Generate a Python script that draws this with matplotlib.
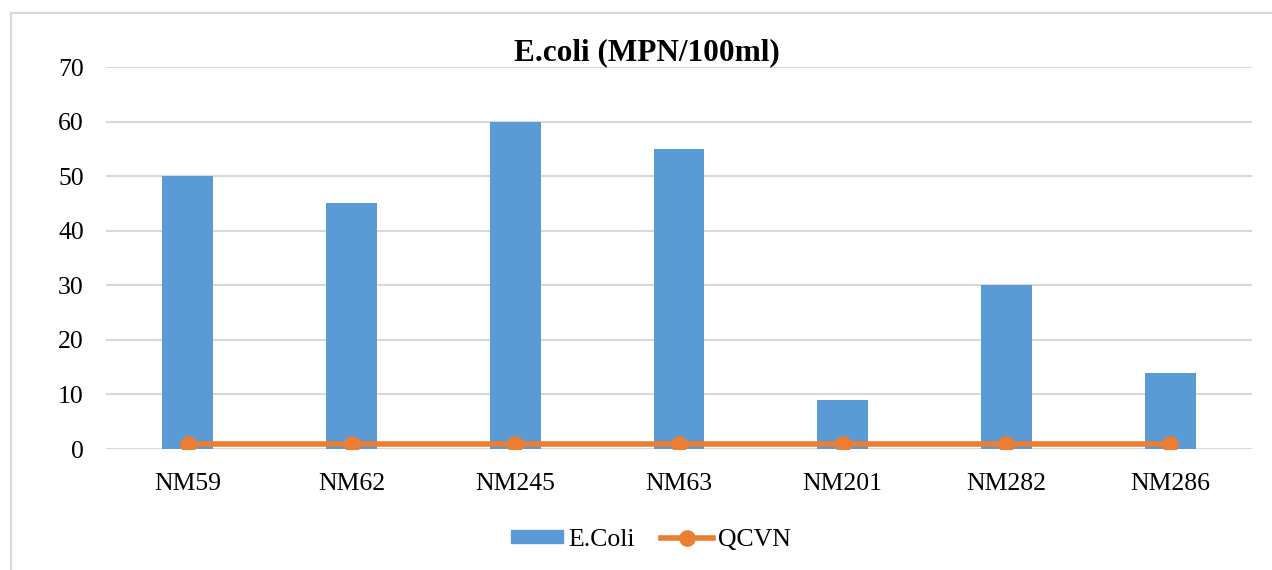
import matplotlib
matplotlib.use("Agg")
import matplotlib.pyplot as plt
from matplotlib.patches import Rectangle
from matplotlib.lines import Line2D

# Sampling sites and measured E.coli counts
sites = ["NM59", "NM62", "NM245", "NM63", "NM201", "NM282", "NM286"]
ecoli = [50, 45, 60, 55, 9, 30, 14]
qcvn = [1, 1, 1, 1, 1, 1, 1]
yticks = [0, 10, 20, 30, 40, 50, 60, 70]

plt.rcParams["font.family"] = ["Liberation Serif", "DejaVu Serif"]

W, H = 1272, 570
fig = plt.figure(figsize=(W / 100, H / 100), dpi=100)

# outer chart frame
fig.patches.append(Rectangle((11 / W, -0.1), 1.2, 1 - 13 / H + 0.1,
                             transform=fig.transFigure, fill=False,
                             edgecolor="#d9d9d9", linewidth=1.5, zorder=0))

left, right = 106 / W, 1252 / W
bottom, top = 1 - 449 / H, 1 - 67 / H
ax = fig.add_axes([left, bottom, right - left, top - bottom])

x = list(range(len(sites)))
blue = "#5b9bd5"
orange = "#ed7d31"
ax.bar(x, ecoli, width=0.31, color=blue, zorder=2)
ax.plot(x, qcvn, color=orange, linewidth=4, marker="o", markersize=11,
        zorder=3, solid_capstyle="butt")

ax.set_xlim(-0.5, len(sites) - 0.5)
ax.set_ylim(0, 70)
ax.set_yticks(yticks)
ax.set_xticks(x)
ax.set_xticklabels(sites)
ax.tick_params(axis="both", length=0, labelsize=18.5, colors="black")
ax.tick_params(axis="y", pad=16)
ax.tick_params(axis="x", pad=17)
ax.grid(axis="y", color="#d9d9d9", linewidth=1.5, zorder=0)
for s in ax.spines.values():
    s.set_visible(False)

fig.text(647 / W, 1 - 53 / H, "E.coli (MPN/100ml)", ha="center", va="center",
         fontsize=22.5, fontweight="bold")

handles = [Rectangle((0, 0), 1, 1, color=blue),
           Line2D([0], [0], color=orange, linewidth=4, marker="o", markersize=11)]
fig.legend(handles, ["E.Coli", "QCVN"], loc="center", bbox_to_anchor=(651 / W, 1 - 540 / H),
           ncol=2, frameon=False, fontsize=18.5, handlelength=2.05, handleheight=0.4,
           handletextpad=0.2, columnspacing=1.0)

fig.savefig("out.png", dpi=100)
